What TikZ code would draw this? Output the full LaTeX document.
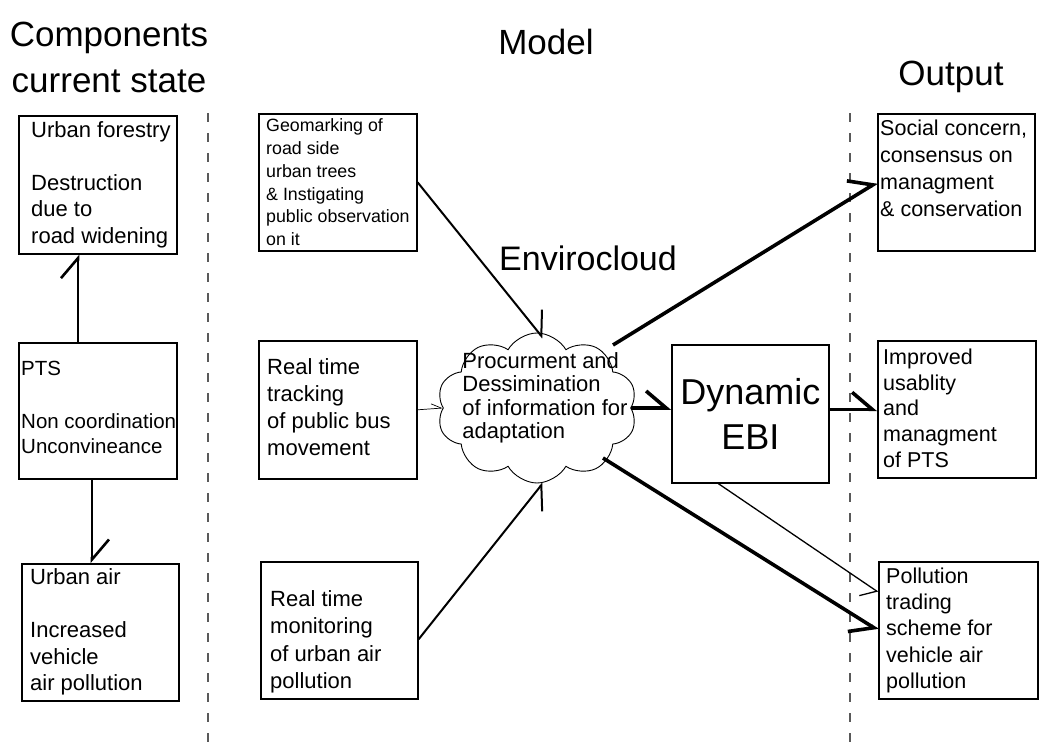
\documentclass[tikz,border=0pt]{standalone}
\usepackage{fontspec}
\setmainfont{Liberation Sans}
\usetikzlibrary{arrows.meta,calc,shapes.symbols}
\newcommand{\fsz}[2]{\fontsize{#1pt}{#2pt}\selectfont}

\begin{document}
\begin{tikzpicture}[x=1pt, y=-1pt,
        box/.style={draw, line width=1.6pt, inner sep=0pt, anchor=north west},
        boxtxt/.style={align=left, inner sep=0pt, anchor=west},
        title/.style={align=center, inner sep=0pt, font=\fsz{35}{46}},
        divider/.style={draw=black!65, line width=1.2pt, dash pattern=on 9pt off 11pt},
        tipl/.style={-{Straight Barb[left,length=20pt,width=34pt]}},
        tipr/.style={-{Straight Barb[right,length=20pt,width=34pt]}}]

        \useasboundingbox (0,0) rectangle (1052,744);

        %% headings
        \node [title] (hd_comp) at (109,57) {Components\\current state};
        \node [title] (hd_model) at (546,42) {Model};
        \node [title] (hd_out) at (951,77) {Output};

        %% column dividers
        \foreach \xd in {208,850} {
          \draw [divider] (\xd,113) -- (\xd,744);
        }

        %% components, current state
        \node [box, minimum width=158pt, minimum height=138pt] (comp_forest) at (18,115) {};
        \node [boxtxt, font=\fsz{22}{26.5}] (comp_forest_txt) at ($(comp_forest.west)+(13,0)$) {Urban forestry\\[26.5pt]Destruction\\due to\\road widening};
        \node [box, minimum width=158pt, minimum height=136pt] (comp_pts) at (18,342) {};
        \node [boxtxt, font=\fsz{20.5}{25}] (comp_pts_txt) at ($(comp_pts.west)+(3,-3)$) {PTS\\[28pt]Non coordination\\Unconvineance};
        \node [box, minimum width=157pt, minimum height=137pt] (comp_air) at (21,563) {};
        \node [boxtxt, font=\fsz{22}{26.5}] (comp_air_txt) at ($(comp_air.west)+(9,0)$) {Urban air\\[26.5pt]Increased\\vehicle\\air pollution};

        %% model
        \node [box, minimum width=158pt, minimum height=137pt] (mdl_geo) at (258,113) {};
        \node [boxtxt, font=\fsz{17.8}{22.8}] (mdl_geo_txt) at ($(mdl_geo.west)+(8,0)$) {Geomarking of\\road side\\urban trees\\\& Instigating\\public observation\\on it};
        \node [box, minimum width=158pt, minimum height=138pt] (mdl_bus) at (258,340) {};
        \node [boxtxt, font=\fsz{22}{27}] (mdl_bus_txt) at ($(mdl_bus.west)+(9,-3)$) {Real time\\tracking\\of public bus\\movement};
        \node [box, minimum width=157pt, minimum height=137pt] (mdl_air) at (260,561) {};
        \node [boxtxt, font=\fsz{22}{27.5}] (mdl_air_txt) at ($(mdl_air.west)+(10,11.5)$) {Real time\\monitoring\\of urban air\\pollution};

        \node [cloud, draw, line width=0.9pt, cloud puffs=10, cloud puff arc=120, cloud ignores aspect, minimum width=200pt, minimum height=150pt] (mdl_cloud) at (537,408) {};
        \node [align=left, inner sep=0pt, font=\fsz{22}{23.5}] (mdl_cloud_txt) at (545,398) {Procurment and\\Dessimination\\of information for\\adaptation};
        \node [inner sep=0pt, font=\fsz{34}{40}] (mdl_envcloud) at (588,258) {Envirocloud};
        \node [box, align=center, font=\fsz{36}{45}, minimum width=157pt, minimum height=138pt] (mdl_ebi) at (671,344) {Dynamic\\EBI};

        %% output
        \node [box, minimum width=157pt, minimum height=137pt] (out_social) at (877,113) {};
        \node [boxtxt, font=\fsz{21.5}{27}] (out_social_txt) at ($(out_social.west)+(3,-13.5)$) {Social concern,\\consensus on\\managment\\\& conservation};
        \node [box, minimum width=158pt, minimum height=137pt] (out_pts) at (877,340) {};
        \node [boxtxt, font=\fsz{21.5}{25.75}] (out_pts_txt) at ($(out_pts.west)+(6,-1)$) {Improved\\usablity\\and\\managment\\of PTS};
        \node [box, minimum width=159pt, minimum height=137pt] (out_trade) at (878,561) {};
        \node [boxtxt, font=\fsz{21.5}{26.25}] (out_trade_txt) at ($(out_trade.west)+(8,0)$) {Pollution\\trading\\scheme for\\vehicle air\\pollution};

        %% connectors
        \draw [line width=2.6pt, tipl] ($(comp_pts.north west)+(60,0)$) -- ($(comp_forest.south west)+(60,0)$);
        \draw [line width=2.6pt, tipl] ($(comp_pts.south west)+(74,0)$) -- ($(comp_air.north west)+(71,0)$);
        \draw [line width=2pt, tipl] (mdl_geo.east) -- ($(mdl_cloud)+(6,-70)$);
        \draw [line width=0.7pt, -{Straight Barb[left,length=10pt,width=10pt]}] (mdl_bus.east) -- (mdl_cloud.west);
        \draw [line width=2pt, tipr] ($(mdl_air.east)+(0,9)$) -- ($(mdl_cloud)+(6,75)$);
        \draw [line width=3.6pt, tipl] ($(mdl_cloud)+(76,-63)$) -- (out_social.west);
        \draw [line width=3.6pt, tipl] (mdl_cloud.east) -- (mdl_cloud.east -| mdl_ebi.west);
        \draw [line width=3.6pt, tipl] (out_pts.west -| mdl_ebi.east) -- (out_pts.west);
        \draw [line width=3.6pt, tipr] ($(mdl_cloud)+(66,50)$) -- (out_trade.west);
        \draw [line width=1.3pt, -{Straight Barb[right,length=12pt,width=27pt]}] ($(mdl_ebi.south)+(-32,0)$) -- ($(out_trade.north west)+(0,31)$);

\end{tikzpicture}
\end{document}
